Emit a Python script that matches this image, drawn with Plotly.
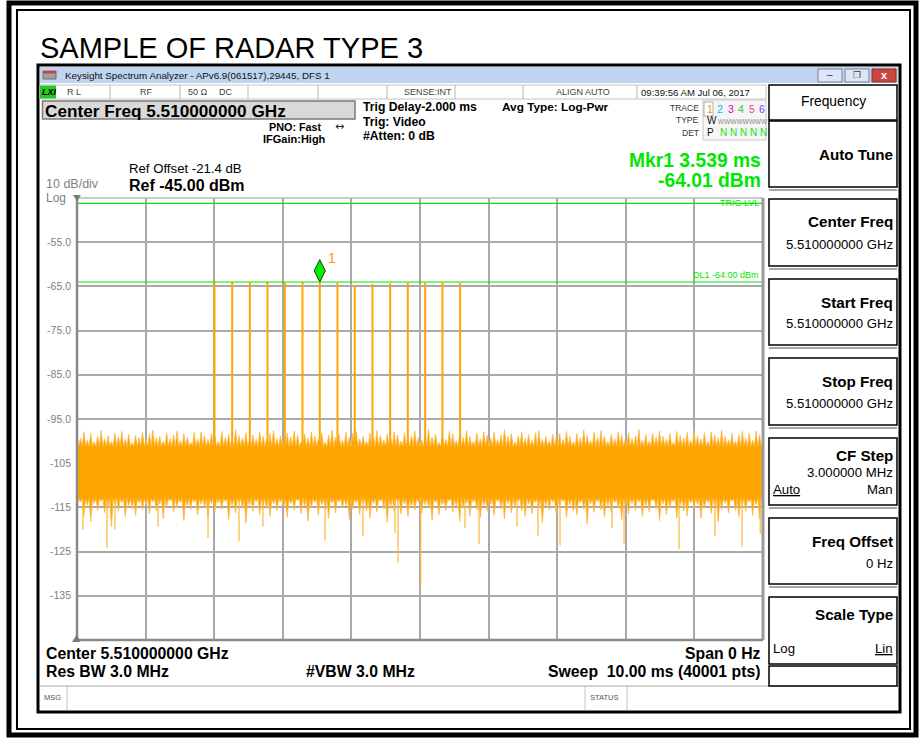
import plotly.graph_objects as go
import numpy as np

W, H = 923, 738
PX0, PX1, PY0, PY1 = 77, 763, 198, 640   # plot box (pixels)

# ---------------- data ----------------
chart_title = "SAMPLE OF RADAR TYPE 3"
window_title = "Keysight Spectrum Analyzer - APv6.9(061517),29445, DFS 1"
center_freq_text = "5.510000000 GHz"
ref_level = -45.0
ref_offset = -21.4
db_per_div = 10
n_div = 10
sweep_ms = 10.0
sweep_pts = 40001
y_tick_vals = [-55, -65, -75, -85, -95, -105, -115, -125, -135]
y_tick_text = ["-55.0", "-65.0", "-75.0", "-85.0", "-95.0", "-105", "-115", "-125", "-135"]
x_grid_vals = [1, 2, 3, 4, 5, 6, 7, 8, 9]
trig_level = -46.2
dl1_level = -64.0
mkr_time = 3.539
mkr_level = -64.01

# radar pulses (time in ms, peak in dBm)
pulse_t = [2.004, 2.262, 2.519, 2.777, 3.029, 3.287, 3.539, 3.797, 4.049,
           4.307, 4.565, 4.822, 5.075, 5.327, 5.585]
pulse_peak = [-64.1, -64.0, -64.1, -64.0, -64.1, -64.0, -64.01, -64.2, -64.6,
              -64.4, -64.3, -64.2, -64.1, -64.1, -64.2]

# noise floor: solid core edges and spike tips (dBm), evenly spread over the sweep
noise_core_top = -101.2
noise_core_bot = -113.0
noise_hi = [
    -98.6, -99.4, -97.9, -99.8, -98.3, -100.2, -98.9, -97.6, -99.5, -98.8, -100.1, -98.2, -99.0, -97.8, -99.6, -98.5, -100.4, -98.7, -99.2, -98.0,
    -99.7, -98.4, -97.5, -99.3, -98.9, -100.0, -98.1, -99.4, -98.6, -97.7, -99.9, -98.3, -99.1, -100.3, -98.0, -99.5, -97.9, -98.8, -99.6, -98.2,
    -98.9, -100.1, -97.8, -99.2, -98.5, -99.8, -97.4, -98.7, -99.3, -98.1, -100.0, -98.6, -99.5, -97.9, -98.9, -99.7, -98.3, -97.6, -99.4, -98.8,
    -99.9, -98.2, -99.0, -97.7, -98.6, -100.2, -98.4, -99.3, -97.9, -98.8, -99.6, -98.1, -100.3, -98.7, -97.5, -99.2, -98.5, -99.8, -98.0, -99.1,
    -98.3, -97.8, -99.5, -98.9, -100.1, -98.2, -99.0, -97.6, -98.7, -99.7, -98.4, -99.3, -97.9, -98.6, -100.0, -98.1, -99.4, -98.8, -97.7, -99.2,
    -99.8, -98.5, -97.3, -99.1, -98.4, -100.3, -98.8, -99.6, -97.8, -98.3, -99.9, -98.6, -99.2, -97.6, -98.9, -100.1, -98.2, -99.5, -97.9, -98.7,
    -99.3, -98.0, -99.7, -98.6, -97.4, -99.0, -98.3, -100.2, -98.8, -97.9, -99.4, -98.5, -99.8, -98.1, -97.7, -99.6, -98.9, -100.0, -98.4, -99.1,
    -98.2, -99.6, -97.8, -98.9, -100.2, -98.3, -99.3, -97.5, -98.7, -99.9, -98.0, -99.2, -97.6, -98.8, -100.1, -98.4, -99.5, -97.9, -98.6, -99.7,
    -98.1, -99.4, -98.8, -97.4, -99.8, -98.5, -100.0, -98.2, -99.1, -97.7, -98.9, -99.6, -98.3, -100.3, -97.8, -98.7, -99.3, -98.0, -99.9, -97.6,
    -98.8, -99.5, -98.1, -100.1, -97.9, -98.6, -99.2, -97.5, -98.9, -99.7, -98.3, -100.0, -98.5, -97.8, -99.4, -98.2, -99.8, -97.7, -98.6, -99.0,
]
noise_lo = [
    -115.2, -113.8, -116.9, -114.5, -118.3, -114.1, -115.7, -113.6, -116.2, -114.8, -119.4, -114.3, -115.9, -113.9, -117.1, -114.6, -115.3, -116.8, -114.0, -115.6,
    -114.4, -116.5, -113.7, -115.8, -114.2, -117.6, -114.9, -113.5, -116.0, -115.1, -113.9, -118.0, -114.7, -115.5, -113.8, -116.7, -114.3, -115.0, -117.3, -114.1,
    -116.1, -114.0, -115.4, -113.6, -117.8, -114.6, -116.3, -113.9, -115.2, -118.6, -114.5, -115.9, -113.7, -116.6, -114.8, -115.3, -117.0, -114.2, -115.7, -113.8,
    -114.9, -117.2, -114.1, -115.6, -113.5, -116.4, -114.7, -118.1, -115.0, -113.9, -116.8, -114.4, -115.5, -117.5, -114.0, -116.2, -113.8, -115.1, -114.6, -117.7,
    -115.4, -113.9, -116.6, -114.3, -115.8, -117.4, -114.1, -116.0, -113.6, -115.3, -118.4, -114.8, -115.9, -113.7, -116.5, -114.2, -117.1, -114.9, -115.6, -113.8,
    -116.3, -114.5, -115.1, -117.9, -113.9, -116.7, -114.4, -115.7, -113.5, -116.1, -114.8, -118.2, -115.2, -114.0, -116.9, -113.8, -115.5, -117.3, -114.6, -115.9,
    -114.2, -116.8, -113.7, -115.3, -117.6, -114.1, -116.2, -114.9, -113.6, -115.8, -117.0, -114.3, -116.4, -113.9, -115.1, -118.5, -114.7, -115.6, -113.8, -116.6,
    -115.0, -113.6, -117.3, -114.5, -115.9, -116.7, -114.0, -115.4, -118.8, -114.2, -116.1, -113.7, -115.5, -117.2, -114.6, -116.3, -113.9, -115.2, -117.8, -114.4,
    -116.5, -114.1, -115.7, -113.8, -117.0, -114.7, -116.0, -113.5, -115.3, -118.0, -114.2, -116.6, -115.0, -113.7, -117.4, -114.5, -115.8, -116.9, -114.0, -115.1,
    -114.3, -117.5, -115.2, -113.9, -116.4, -114.8, -118.3, -115.5, -114.1, -116.2, -113.6, -115.7, -117.1, -114.6, -115.9, -113.8, -116.8, -114.4, -117.6, -115.3,
]
# isolated deep downward noise spikes (time ms, dBm)
spike_t = [0.087, 0.437, 0.554, 1.181, 1.910, 2.362, 2.711, 3.615, 4.169, 4.636,
           4.679, 5.010, 5.656, 5.860, 6.414, 6.720, 7.041, 7.799, 7.974, 8.776,
           9.300, 9.694, 9.960]
spike_v = [-120.1, -124.2, -120.0, -119.4, -121.9, -122.7, -119.4, -122.5, -121.6, -120.8,
           -127.6, -132.7, -119.7, -123.3, -119.4, -121.5, -123.7, -119.7, -123.3, -124.5,
           -121.5, -123.9, -121.0]

softkeys = [  # (label, value line, top px, bottom px)
    ("Auto Tune", None, 121, 187),
    ("Center Freq", "5.510000000 GHz", 199, 266),
    ("Start Freq", "5.510000000 GHz", 279, 345),
    ("Stop Freq", "5.510000000 GHz", 358, 425),
    ("CF Step", "3.000000 MHz", 438, 505),
    ("Freq Offset", "0 Hz", 518, 584),
    ("Scale Type", None, 597, 664),
]

ORANGE = "#ffa500"
GREEN = "#00e600"
GRID = "#a9a9a9"
FONT = "Liberation Sans"

# ---------------- helpers ----------------
def X(p):
    return p / W

def Y(p):
    return 1 - p / H

shapes = []
annotations = []

def rect(x0, y0, x1, y1, fill=None, line=None, lw=1):
    shapes.append(dict(type="rect", xref="paper", yref="paper",
                       x0=X(x0), x1=X(x1), y0=Y(y1), y1=Y(y0),
                       fillcolor=fill if fill else "rgba(0,0,0,0)",
                       line=dict(color=line if line else "rgba(0,0,0,0)", width=lw if line else 0)))

def seg(x0, y0, x1, y1, color, lw=1):
    shapes.append(dict(type="line", xref="paper", yref="paper",
                       x0=X(x0), x1=X(x1), y0=Y(y0), y1=Y(y1),
                       line=dict(color=color, width=lw)))

def txt(x, y, s, size=11, color="black", bold=False, anchor="left", family=FONT):
    annotations.append(dict(xref="paper", yref="paper", x=X(x), y=Y(y),
                            text=("<b>%s</b>" % s) if bold else s, showarrow=False,
                            xanchor=anchor, yanchor="middle", borderpad=0,
                            font=dict(family=family, size=size, color=color)))

# ---------------- traces ----------------
n = len(noise_hi)
t_noise = list(np.linspace(0, sweep_ms, n))
dt = sweep_ms / (n - 1)
ux, uy, lx, ly = [], [], [], []
for i in range(n):
    ux.append(t_noise[i]); uy.append(noise_hi[i])
    lx.append(t_noise[i]); ly.append(noise_lo[i])
    if i < n - 1:
        ux.append(t_noise[i] + dt / 2); uy.append(noise_core_top)
        lx.append(t_noise[i] + dt / 2); ly.append(noise_core_bot)
fig = go.Figure()
fig.add_trace(go.Scatter(x=ux + lx[::-1], y=uy + ly[::-1],
                         fill="toself", fillcolor=ORANGE, mode="lines",
                         line=dict(color="#ffb940", width=0.8), hoverinfo="skip"))
sx, sy = [], []
for t, v in zip(spike_t, spike_v):
    sx += [t, t, None]
    sy += [noise_core_bot, v, None]
fig.add_trace(go.Scatter(x=sx, y=sy, mode="lines", line=dict(color="#ffb733", width=1.2),
                         hoverinfo="skip"))
px_, py_ = [], []
for t, v in zip(pulse_t, pulse_peak):
    px_ += [t, t, None]
    py_ += [noise_core_top, v, None]
fig.add_trace(go.Scatter(x=px_, y=py_, mode="lines", line=dict(color=ORANGE, width=2),
                         hoverinfo="skip"))

# marker diamond (tip sits on the marker level)
mk_size = 16
px_per_db = (PY1 - PY0) / (db_per_div * n_div)
mk_off = (1.4 * mk_size / 2) / px_per_db
fig.add_trace(go.Scatter(x=[mkr_time], y=[mkr_level + mk_off], mode="markers",
                         marker=dict(symbol="diamond-tall", size=mk_size, color="#00ee00",
                                     line=dict(color="#1a3a1a", width=1)),
                         hoverinfo="skip"))

# green display lines (data coords)
for lvl in (trig_level, dl1_level):
    shapes.append(dict(type="line", xref="x", yref="y", x0=0, x1=sweep_ms, y0=lvl, y1=lvl,
                       line=dict(color=GREEN, width=1.2)))
annotations.append(dict(xref="x", yref="y", x=sweep_ms, y=trig_level, text="TRIG LVL",
                        showarrow=False, xanchor="right", yanchor="middle", xshift=-2,
                        font=dict(family=FONT, size=9, color=GREEN)))
annotations.append(dict(xref="x", yref="y", x=sweep_ms, y=dl1_level,
                        text="DL1 %.2f dBm" % dl1_level, showarrow=False,
                        xanchor="right", yanchor="bottom", xshift=-2, yshift=0,
                        font=dict(family=FONT, size=9, color=GREEN)))
annotations.append(dict(xref="x", yref="y", x=mkr_time, y=mkr_level, text="1",
                        showarrow=False, xanchor="left", yanchor="bottom", xshift=6, yshift=14,
                        font=dict(family=FONT, size=14, color="#ff9900")))

# ---------------- page & window chrome ----------------
rect(9, 3, 916, 735, line="black", lw=5)
rect(17, 10, 910, 729, line="black", lw=2)
txt(39, 48, chart_title, size=29, color="black")

# analyzer window (outline only so the graph stays visible)
rect(38, 65, 900, 712, line="black", lw=3)
rect(40, 67, 898, 83, fill="#bfd4ee")
rect(43, 71, 56, 79, fill="#a0a0a0", line="#707070")
rect(43, 71, 56, 73.5, fill="#d04040")
txt(64, 75.5, window_title, size=9.8, color="#111111")
for bx, fill, ln in ((818, "#dce6f4", "#74849e"), (845, "#dce6f4", "#74849e"), (872, "#c8473e", "#8a2b24")):
    rect(bx, 69, bx + 24, 82, fill=fill, line=ln)
txt(830, 75, "‒", size=10, color="#333", anchor="center")
txt(857, 75, "❐", size=9, color="#333", anchor="center", family="DejaVu Sans")
txt(884, 75, "x", size=11, color="white", bold=True, anchor="center")

# status row
rect(40, 85, 766, 99, fill="white", line="#c4c4c4")
rect(40, 85.5, 56, 98.5, fill="#22cc22")
txt(41, 92, "<i>LXI</i>", size=9, bold=True)
for sx_ in (110, 180, 248, 318, 387, 455, 523, 637):
    seg(sx_, 85, sx_, 99, "#b5b5b5")
txt(66, 92, "R L", size=9, color="#444")
txt(139, 92, "RF", size=9, color="#444")
txt(187, 92, "50 Ω", size=9, color="#444")
txt(218, 92, "DC", size=9, color="#444")
txt(453, 92, "SENSE:INT", size=9, color="#444", anchor="right")
txt(555, 92, "ALIGN AUTO", size=9, color="#444")
txt(640, 92, "09:39:56 AM Jul 06, 2017", size=9.6, color="#111")

# header
rect(42.5, 101, 355, 119, fill="#d9d9d9", line="#7a7a7a", lw=1.5)
txt(44, 110.5, "Center Freq " + center_freq_text, size=17.2, bold=True)
txt(323, 126.5, "PNO: Fast", size=10.8, bold=True, anchor="right")
txt(339, 126, "↔", size=11, color="#222", anchor="center", family="DejaVu Sans")
txt(327, 139.5, "IFGain:High", size=11, bold=True, anchor="right")
txt(362, 107.5, "Trig Delay-2.000 ms", size=12.2, bold=True)
txt(362, 121.5, "Trig: Video", size=12.2, bold=True)
txt(362, 136, "#Atten: 0 dB", size=12.2, bold=True)
txt(501, 107.5, "Avg Type: Log-Pwr", size=11.8, bold=True)
rect(703, 100, 766, 140, fill="#f5f5f5", line="#c8c8c8")
rect(704, 102, 713, 116, fill="white", line="#b0b0b0")
txt(700, 108, "TRACE", size=8.5, color="#333", anchor="right")
txt(700, 120.5, "TYPE", size=8.5, color="#333", anchor="right")
txt(700, 132.5, "DET", size=8.5, color="#333", anchor="right")
for i, (ch, col) in enumerate(zip("123456", ["#e0a000", "#00bce0", "#e000d0", "#30cc30", "#ff3c8c", "#8a3cff"])):
    txt(706 + i * 10.4, 109, ch, size=10.5, color=col)
txt(706, 121, "W", size=10, color="#111")
txt(717, 121.5, "WWWWWWWW", size=6.5, color="#888")
txt(706, 132.5, "P", size=10, color="#111")
txt(719, 132.5, "N N N N N", size=10, color="#22dd22")
txt(762, 160, "Mkr1 %.3f ms" % mkr_time, size=19.3, bold=True, color=GREEN, anchor="right")
txt(762, 180, "%.2f dBm" % mkr_level, size=19.3, bold=True, color=GREEN, anchor="right")
txt(128, 169, "Ref Offset %.1f dB" % ref_offset, size=13.2)
txt(128, 185.5, "Ref %.2f dBm" % ref_level, size=16, bold=True)
txt(45, 184, "%d dB/div" % db_per_div, size=12.5, color="#808080")
txt(45, 197.5, "Log", size=12, color="#808080")

# plot border
seg(PX0, PY0, PX1, PY0, "#b8b8b8", 1.5)
seg(PX1, PY0, PX1, PY1, "#9a9a9a", 3)
seg(PX0, PY0, PX0, PY1, "#8a8a8a", 2.5)
seg(PX0, PY1, PX1, PY1, "#8a8a8a", 2.5)
shapes.append(dict(type="path", xref="paper", yref="paper",
                   path="M %f %f L %f %f L %f %f Z" % (X(PX0 - 4), Y(PY0 - 3), X(PX0 + 4), Y(PY0 - 3), X(PX0), Y(PY0 + 3)),
                   fillcolor="#7a7a7a", line=dict(width=0)))
shapes.append(dict(type="path", xref="paper", yref="paper",
                   path="M %f %f L %f %f L %f %f Z" % (X(PX0 - 5), Y(PY1 + 2), X(PX0), Y(PY1 - 6), X(PX0 + 3), Y(PY1 + 2)),
                   fillcolor="#7a7a7a", line=dict(width=0)))

# bottom annotation rows
txt(45, 653, "Center " + center_freq_text, size=15.8, bold=True)
txt(762, 653, "Span 0 Hz", size=15.8, bold=True, anchor="right")
txt(45, 671, "Res BW 3.0 MHz", size=15.8, bold=True)
txt(305, 671, "#VBW 3.0 MHz", size=15.8, bold=True)
txt(762, 671, "Sweep&nbsp;&nbsp;%.2f ms (%d pts)" % (sweep_ms, sweep_pts), size=15.8, bold=True, anchor="right")
seg(40, 686, 766, 686, "#c4c4c4", 1.5)
seg(67, 686, 67, 710, "#c4c4c4", 1)
seg(585, 686, 585, 710, "#c4c4c4", 1)
seg(627, 686, 627, 710, "#c4c4c4", 1)
seg(766, 686, 898, 686, "#c4c4c4", 1.5)
txt(43, 697, "MSG", size=7.5, color="#555")
txt(589, 697, "STATUS", size=7.5, color="#555")

# right soft-key panel
rect(769, 85, 897, 120, fill="white", line="black", lw=1.5)
txt(833, 102, "Frequency", size=13.8, anchor="center")
for label, val, top, bot in softkeys:
    rect(769, top, 897, bot, fill="white", line="black", lw=1.5)
    seg(769, bot + 3, 897, bot + 3, "#a8a8a8", 2)
    if label == "Auto Tune":
        txt(894, 154, "Auto Tune", size=15.2, bold=True, anchor="right")
    elif label == "CF Step":
        txt(894, top + 17, label, size=15.2, bold=True, anchor="right")
        txt(894, top + 34.5, val, size=13.2, anchor="right")
        txt(772, top + 51, "<u>Auto</u>", size=13.2)
        txt(894, top + 51, "Man", size=13.2, anchor="right")
    elif label == "Scale Type":
        txt(894, top + 17, label, size=15.2, bold=True, anchor="right")
        txt(772, top + 51, "Log", size=13.2)
        txt(894, top + 51, "<u>Lin</u>", size=13.2, anchor="right")
    else:
        txt(894, top + 23, label, size=15.2, bold=True, anchor="right")
        txt(894, top + 45, val, size=13.2, anchor="right")
rect(769, 666, 897, 686, fill="white", line="black", lw=1.5)

fig.update_layout(
    width=W, height=H, autosize=False,
    margin=dict(l=0, r=0, t=0, b=0),
    paper_bgcolor="white", plot_bgcolor="white", showlegend=False,
    xaxis=dict(domain=[PX0 / W, PX1 / W], range=[0, sweep_ms], tickvals=x_grid_vals,
               showticklabels=False, showgrid=True, gridcolor=GRID, gridwidth=1.5,
               zeroline=False, showline=False, ticks="", fixedrange=True),
    yaxis=dict(domain=[1 - PY1 / H, 1 - PY0 / H],
               range=[ref_level - db_per_div * n_div, ref_level],
               tickvals=y_tick_vals, ticktext=y_tick_text,
               tickfont=dict(family=FONT, size=10.5, color="#808080"),
               showgrid=True, gridcolor=GRID, gridwidth=1.5, zeroline=False,
               showline=False, ticks="", ticklabelstandoff=5, fixedrange=True),
    shapes=shapes, annotations=annotations,
)
fig.write_html("out.html", config={"displayModeBar": False},
               post_script="document.body.style.margin='0';document.body.style.padding='0';")
